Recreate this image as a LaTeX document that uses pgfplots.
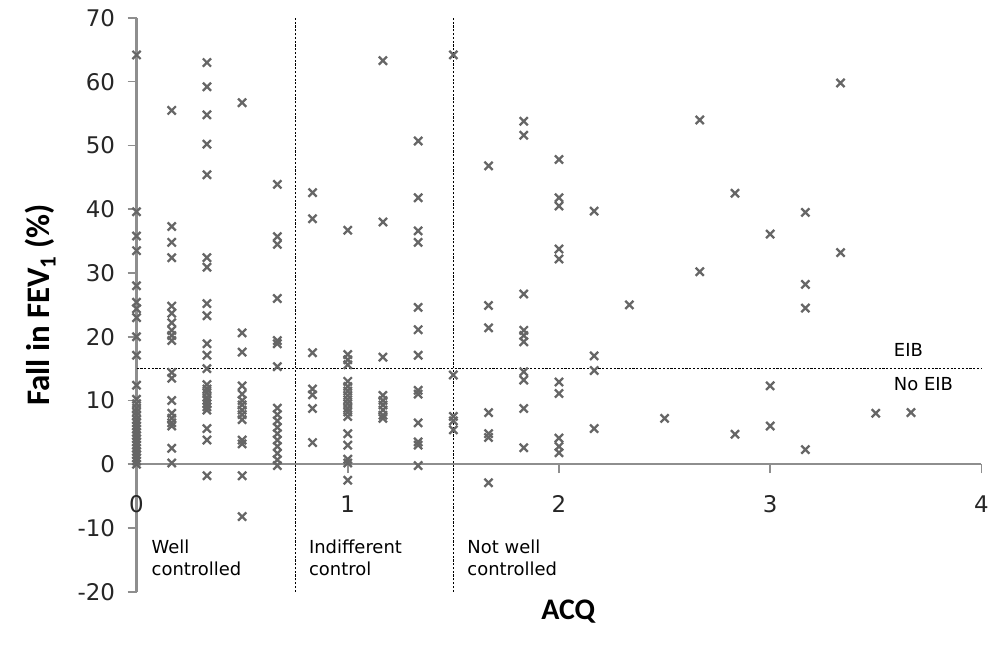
\documentclass[border=0pt]{standalone}
\usepackage{fontspec}
\setmainfont{DejaVu Sans}
\newfontfamily\titlefont{Carlito}
\usepackage{pgfplots}
\usepackage{pgfplotstable}
\pgfplotsset{compat=1.18}
\definecolor{axisgray}{HTML}{8E8E8E}
\definecolor{markgray}{HTML}{666666}

\pgfplotstableread{
x y
0 64.2
0 39.6
0 35.8
0 33.5
0 28.0
0 25.4
0 24.4
0 23.0
0 20.0
0 17.1
0 12.4
0 10.2
0 9.5
0 8.8
0 8.2
0 7.6
0 7.0
0 6.5
0 6.0
0 5.5
0 5.0
0 4.5
0 4.0
0 3.5
0 3.0
0 2.5
0 2.0
0 1.5
0 1.0
0 0.5
0 0.0
0.1667 55.5
0.1667 37.3
0.1667 34.8
0.1667 32.4
0.1667 24.8
0.1667 23.7
0.1667 22.2
0.1667 21.0
0.1667 20.2
0.1667 19.4
0.1667 14.4
0.1667 13.5
0.1667 10.0
0.1667 8.0
0.1667 7.2
0.1667 6.5
0.1667 6.0
0.1667 2.5
0.1667 0.2
0.3333 63.0
0.3333 59.2
0.3333 54.8
0.3333 50.2
0.3333 45.4
0.3333 32.4
0.3333 30.9
0.3333 25.2
0.3333 23.3
0.3333 18.9
0.3333 17.1
0.3333 15.0
0.3333 12.5
0.3333 11.8
0.3333 11.2
0.3333 10.5
0.3333 10.0
0.3333 9.5
0.3333 9.0
0.3333 8.5
0.3333 5.6
0.3333 3.8
0.3333 -1.8
0.5 56.7
0.5 20.6
0.5 17.6
0.5 12.3
0.5 11.0
0.5 10.0
0.5 9.3
0.5 8.5
0.5 7.8
0.5 7.0
0.5 3.8
0.5 3.2
0.5 -1.8
0.5 -8.2
0.6667 43.9
0.6667 35.7
0.6667 34.5
0.6667 26.0
0.6667 19.4
0.6667 18.9
0.6667 15.3
0.6667 8.8
0.6667 7.8
0.6667 6.8
0.6667 5.8
0.6667 4.8
0.6667 3.8
0.6667 2.8
0.6667 1.7
0.6667 0.7
0.6667 -0.2
0.8333 42.6
0.8333 38.5
0.8333 17.5
0.8333 11.8
0.8333 10.9
0.8333 8.75
0.8333 3.4
1 36.7
1 17.2
1 16.4
1 15.6
1 13.0
1 12.2
1 11.5
1 10.8
1 10.1
1 9.5
1 8.8
1 8.2
1 7.5
1 4.8
1 3.0
1 0.8
1 0.2
1 -2.5
1.1667 63.3
1.1667 38.0
1.1667 16.8
1.1667 10.8
1.1667 10.0
1.1667 9.3
1.1667 8.5
1.1667 7.7
1.1667 7.2
1.3333 50.7
1.3333 41.8
1.3333 36.6
1.3333 34.8
1.3333 24.6
1.3333 21.1
1.3333 17.1
1.3333 11.6
1.3333 11.0
1.3333 6.5
1.3333 3.5
1.3333 3.0
1.3333 -0.2
1.5 64.2
1.5 14.0
1.5 7.5
1.5 6.8
1.5 5.4
1.6667 46.8
1.6667 24.9
1.6667 21.4
1.6667 8.1
1.6667 4.8
1.6667 4.2
1.6667 -2.9
1.8333 53.8
1.8333 51.6
1.8333 26.7
1.8333 21.0
1.8333 20.2
1.8333 19.2
1.8333 14.5
1.8333 13.2
1.8333 8.75
1.8333 2.6
2 47.8
2 41.8
2 40.5
2 33.75
2 32.2
2 12.9
2 11.1
2 4.1
2 2.8
2 1.8
2.1667 39.7
2.1667 17.0
2.1667 14.7
2.1667 5.6
2.3333 25.0
2.5 7.2
2.6667 54.0
2.6667 30.2
2.8333 42.5
2.8333 4.7
3 36.1
3 12.3
3 6.0
3.1667 39.5
3.1667 28.2
3.1667 24.5
3.1667 2.3
3.3333 59.8
3.3333 33.2
3.5 8.0
3.6667 8.1
}\acqdata

\begin{document}
\begin{tikzpicture}
\begin{axis}[
  scale only axis, width=848pt, height=576pt,
  xmin=0, xmax=4, ymin=-20, ymax=70,
  clip=false,
  axis x line=middle, axis y line=left,
  axis line style={axisgray, line width=2.4pt, -},
  hide obscured x ticks=false, hide obscured y ticks=false,
  xtick={0,1,2,3,4}, xticklabels={0,1,2,3,4},
  ytick={-20,-10,0,10,20,30,40,50,60,70},
  yticklabels={-20,-10,0,10,20,30,40,50,60,70},
  tick style={axisgray, line width=1.6pt},
  tick align=outside,
  major tick length=9pt,
  ticklabel style={font=\fontsize{23}{26}\selectfont, text=black!85},
  xticklabel style={yshift=-19pt},
  yticklabel style={xshift=-9pt},
  every axis y label/.style={at={(axis description cs:-0.114,0.5)}, rotate=90, anchor=center},
  every axis x label/.style={at={(axis description cs:0.511,-0.034)}, anchor=center},
  ylabel={\titlefont\bfseries\fontsize{33}{36}\selectfont Fall in FEV\textsubscript{1} (\%)},
  xlabel={\titlefont\bfseries\fontsize{30}{34}\selectfont ACQ},
]
\addplot[black, line width=0.8pt, dash pattern=on 2.2pt off 1.6pt] coordinates {(0,15) (4,15)};
\addplot[black, line width=0.8pt, dash pattern=on 2.2pt off 1.6pt] coordinates {(0.75,-20) (0.75,70)};
\addplot[black, line width=0.8pt, dash pattern=on 2.2pt off 1.6pt] coordinates {(1.5,-20) (1.5,70)};
\addplot[only marks, mark=x, mark size=5.8pt, color=markgray, mark options={line width=2.3pt}] table[x=x, y=y] {\acqdata};
\node[anchor=north west, align=left, inner sep=0pt, font=\fontsize{18}{22}\selectfont] at (axis cs:0.071,-11.8) {Well\\controlled};
\node[anchor=north west, align=left, inner sep=0pt, font=\fontsize{18}{22}\selectfont] at (axis cs:0.816,-11.8) {Indifferent\\control};
\node[anchor=north west, align=left, inner sep=0pt, font=\fontsize{18}{22}\selectfont] at (axis cs:1.566,-11.8) {Not well\\controlled};
\node[anchor=base west, inner sep=0pt, font=\fontsize{18}{22}\selectfont] at (axis cs:3.585,16.9) {EIB};
\node[anchor=base west, inner sep=0pt, font=\fontsize{18}{22}\selectfont] at (axis cs:3.585,11.5) {No EIB};
\coordinate (bbl) at (rel axis cs:-0.1616,-0.1007);
\coordinate (btr) at (rel axis cs:1.0083,1.03125);
\end{axis}
\path (bbl) rectangle (btr);
\end{tikzpicture}
\end{document}
